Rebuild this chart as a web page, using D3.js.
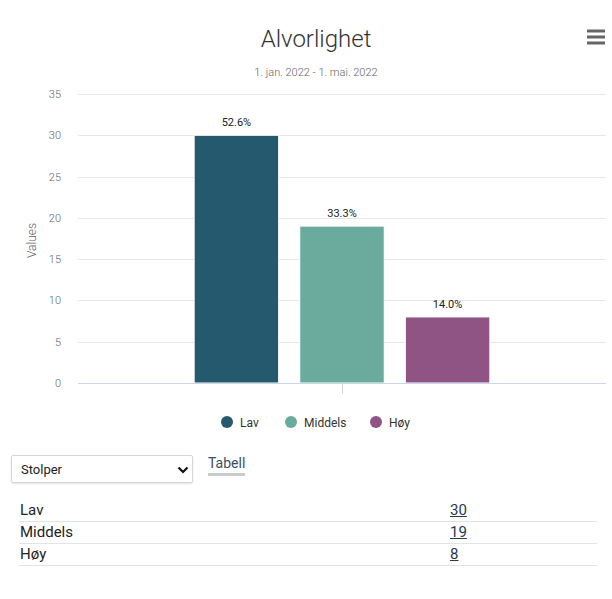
<!DOCTYPE html>
<meta charset="utf-8">
<script src="https://d3js.org/d3.v7.min.js"></script>
<style>
  body { margin: 0; background: #fff; font-family: Roboto, sans-serif; }
  #wrap { position: relative; width: 612px; height: 599px; }
  #chart { position: absolute; left: 0; top: 0; }
  #selectBox { position: absolute; left: 11px; top: 455px; width: 182px; height: 28px;
    border: 1px solid #d6d6d6; border-radius: 2px; box-sizing: border-box;
    box-shadow: 0 1px 2px rgba(0,0,0,0.12); font-size: 13px; color: #222; }
  #selectBox span { position: absolute; left: 9px; top: 6px; }
  #selectBox svg { position: absolute; left: 165px; top: 9px; }
  #tabell { position: absolute; left: 208px; top: 455px; font-size: 14px; color: #3d4f60;
    padding-bottom: 2px; border-bottom: 3px solid #c8ccd0; line-height: 16px; }
  #tbl { position: absolute; left: 19px; top: 500px; width: 578px; border-collapse: collapse;
    font-size: 15px; color: #222; }
  #tbl td { padding: 0 1px; height: 21px; border-bottom: 1px solid #e3e3e3; line-height: 21px; }
  #tbl td.v { width: 146px; }
  #tbl td.v a { color: #243a4e; text-decoration: underline; }
</style>
<div id="wrap">
  <svg id="chart" width="612" height="445"></svg>
  <div id="selectBox"><span>Stolper</span>
    <svg width="12" height="10"><path d="M1.5 2.5 L6 7 L10.5 2.5" fill="none" stroke="#111" stroke-width="2.2"/></svg>
  </div>
  <div id="tabell">Tabell</div>
  <table id="tbl"></table>
</div>
<script>

// data
var seriesNames = ["Lav", "Middels", "Høy"];
var seriesValues = [30, 19, 8];
var seriesColors = ["#25596d", "#6aab9d", "#8f5483"];
var yTicks = [0, 5, 10, 15, 20, 25, 30, 35];

var margin = {top: 94, right: 6, bottom: 62, left: 78},
    width = 612 - margin.left - margin.right,
    height = 383 - margin.top;

var svg = d3.select("#chart");

// title + subtitle
svg.append("text")
  .attr("x", 316).attr("y", 47)
  .attr("text-anchor", "middle")
  .style("font-size", "24px").style("font-weight", 300)
  .style("fill", "#333")
  .text("Alvorlighet");
svg.append("text")
  .attr("x", 316).attr("y", 76)
  .attr("text-anchor", "middle")
  .style("font-size", "11px").style("font-weight", 300)
  .style("fill", "#666")
  .text("1. jan. 2022 - 1. mai. 2022");

// menu icon
svg.append("g").selectAll("rect")
  .data([0, 1, 2]).enter()
  .append("rect")
    .attr("x", 587).attr("y", function(d) { return 29.5 + d * 6; })
    .attr("width", 18).attr("height", 3)
    .attr("fill", "#666");

var g = svg.append("g")
  .attr("transform", "translate(" + margin.left + "," + margin.top + ")");

var y = d3.scaleLinear().domain([0, 35]).range([height, 0]);

// one category, three series side by side
var x0 = d3.scaleBand().domain(["Alvorlighet"]).range([0, width]);
var x1 = d3.scaleBand().domain(seriesNames)
  .range([x0.bandwidth() * 0.2, x0.bandwidth() * 0.8])
  .paddingInner(0.2).paddingOuter(0.1);

// grid
g.append("g").selectAll("line")
  .data(yTicks.filter(function(d) { return d > 0; })).enter()
  .append("line")
    .attr("x1", 0).attr("x2", width)
    .attr("y1", function(d) { return Math.round(y(d)) + 0.5; })
    .attr("y2", function(d) { return Math.round(y(d)) + 0.5; })
    .attr("stroke", "#e6e6e6");

// y tick labels
g.append("g").selectAll("text")
  .data(yTicks).enter()
  .append("text")
    .attr("x", -17)
    .attr("y", function(d) { return y(d) + 4; })
    .attr("text-anchor", "end")
    .style("font-size", "11px").style("font-weight", 300)
    .style("fill", "#666")
    .text(function(d) { return d; });

// y title
g.append("text")
  .attr("transform", "translate(-42," + (height / 2 + 2) + ") rotate(-90)")
  .attr("text-anchor", "middle")
  .style("font-size", "12px").style("font-weight", 300)
  .style("fill", "#666")
  .text("Values");

// bars
var total = d3.sum(seriesValues);
var bars = g.append("g").selectAll("g")
  .data(seriesNames).enter()
  .append("g");

bars.append("rect")
  .attr("x", function(d) { return x0("Alvorlighet") + x1(d); })
  .attr("y", function(d, i) { return y(seriesValues[i]); })
  .attr("width", x1.bandwidth())
  .attr("height", function(d, i) { return height - y(seriesValues[i]); })
  .attr("fill", function(d, i) { return seriesColors[i]; })
  .attr("stroke", "#fff").attr("stroke-width", 1);

bars.append("text")
  .attr("x", function(d) { return x0("Alvorlighet") + x1(d) + x1.bandwidth() / 2; })
  .attr("y", function(d, i) { return y(seriesValues[i]) - 9; })
  .attr("text-anchor", "middle")
  .style("font-size", "11px")
  .style("fill", "#222")
  .text(function(d, i) { return d3.format(".1f")(seriesValues[i] / total * 100) + "%"; });

// x axis line + tick
g.append("line")
  .attr("x1", 0).attr("x2", width)
  .attr("y1", height + 0.5).attr("y2", height + 0.5)
  .attr("stroke", "#ccd6eb");
g.append("line")
  .attr("x1", x0("Alvorlighet") + x0.bandwidth() / 2 + 0.5)
  .attr("x2", x0("Alvorlighet") + x0.bandwidth() / 2 + 0.5)
  .attr("y1", height).attr("y2", height + 11)
  .attr("stroke", "#ccd6eb");

// legend
var legendX = [227, 291, 376];
var legend = svg.append("g").selectAll("g")
  .data(seriesNames).enter()
  .append("g")
    .attr("transform", function(d, i) { return "translate(" + legendX[i] + ",422)"; });
legend.append("circle")
  .attr("r", 6)
  .attr("fill", function(d, i) { return seriesColors[i]; });
legend.append("text")
  .attr("x", 13).attr("y", 4.5)
  .style("font-size", "12px")
  .style("fill", "#333")
  .text(function(d) { return d; });

// table
var rows = d3.select("#tbl").selectAll("tr")
  .data(seriesNames).enter()
  .append("tr");
rows.append("td").text(function(d) { return d; });
rows.append("td").attr("class", "v")
  .append("a").attr("href", "#")
  .text(function(d, i) { return seriesValues[i]; });

</script>
